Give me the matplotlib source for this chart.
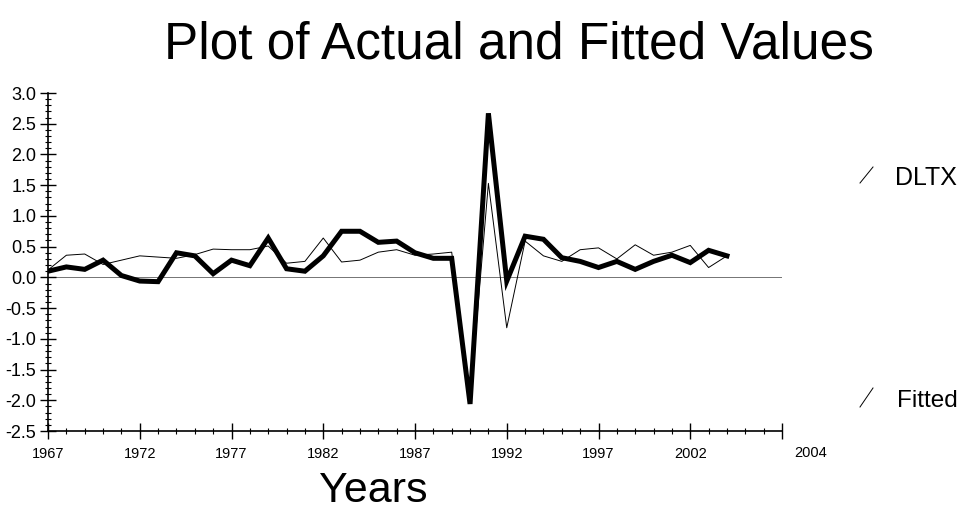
import matplotlib
matplotlib.use("Agg")
import matplotlib.pyplot as plt
from matplotlib.lines import Line2D
from matplotlib.ticker import MultipleLocator

plt.rcParams['axes.unicode_minus'] = False
FONT = ['Liberation Sans', 'DejaVu Sans']

years = list(range(1967, 2005))
dltx = [0.12, 0.36, 0.38, 0.21, 0.28, 0.35, 0.33, 0.31, 0.37, 0.46,
        0.45, 0.45, 0.51, 0.23, 0.26, 0.64, 0.25, 0.28, 0.41, 0.45,
        0.36, 0.38, 0.41, -2.00, 1.53, -0.82, 0.59, 0.35, 0.26, 0.45,
        0.48, 0.30, 0.53, 0.36, 0.41, 0.52, 0.16, 0.35]
fitted = [0.10, 0.17, 0.13, 0.28, 0.03, -0.06, -0.07, 0.40, 0.35, 0.06,
          0.28, 0.19, 0.64, 0.14, 0.10, 0.35, 0.75, 0.75, 0.57, 0.59,
          0.40, 0.31, 0.31, -2.06, 2.67, -0.06, 0.67, 0.62, 0.32, 0.26,
          0.16, 0.26, 0.13, 0.26, 0.36, 0.24, 0.44, 0.35]

xticks = [1967, 1972, 1977, 1982, 1987, 1992, 1997, 2002, 2007]
xticklabels = ['1967', '1972', '1977', '1982', '1987', '1992', '1997', '2002', '']
yticks = [3.0, 2.5, 2.0, 1.5, 1.0, 0.5, 0.0, -0.5, -1.0, -1.5, -2.0, -2.5]

fig = plt.figure(figsize=(9.64, 5.12), dpi=100)
ax = fig.add_axes([48/964, 81/512, 734/964, 338/512])

ax.axhline(0, color='0.45', lw=0.7, zorder=1)
ax.plot(years, dltx, color='black', lw=0.7, zorder=3)
ax.plot(years, fitted, color='black', lw=3.6, solid_joinstyle='miter', zorder=2)

ax.set_xlim(1967, 2007)
ax.set_ylim(-2.5, 3.0)
ax.set_xticks(xticks)
ax.set_xticklabels(xticklabels, family=FONT, fontsize=10.5)
ax.set_yticks(yticks)
ax.set_yticklabels(['%.1f' % v for v in yticks], family=FONT, fontsize=13)
ax.xaxis.set_minor_locator(MultipleLocator(1))
ax.yaxis.set_minor_locator(MultipleLocator(0.1))
ax.tick_params(which='major', direction='inout', length=11, width=1.0, pad=3)
ax.tick_params(which='minor', direction='inout', length=4, width=0.8)
ax.tick_params(axis='x', which='major', pad=6)

for s in ['top', 'right']:
    ax.spines[s].set_visible(False)
for s in ['left', 'bottom']:
    ax.spines[s].set_linewidth(1.2)

ax.annotate('2004', xy=(2007, 0), xycoords=('data', 'axes fraction'),
            xytext=(9, -11), textcoords='offset points', ha='left', va='top',
            family=FONT, fontsize=10.5)

fig.text(0.538, 0.885, 'Plot of Actual and Fitted Values', ha='center',
         va='baseline', family=FONT, fontsize=37)
fig.text(0.387, 0.02, 'Years', ha='center', va='baseline', family=FONT, fontsize=31)

# legend entries on the right
fig.text(895/964, 0.639, 'DLTX', ha='left', va='baseline', family=FONT, fontsize=18)
fig.text(897/964, 0.205, 'Fitted', ha='left', va='baseline', family=FONT, fontsize=17.5)
fig.add_artist(Line2D([860/964, 873/964], [1 - 183/512, 1 - 167/512],
                      transform=fig.transFigure, color='black', lw=0.7))
fig.add_artist(Line2D([860/964, 873/964], [1 - 407/512, 1 - 388/512],
                      transform=fig.transFigure, color='black', lw=0.7))

fig.savefig('out.png', dpi=100)
